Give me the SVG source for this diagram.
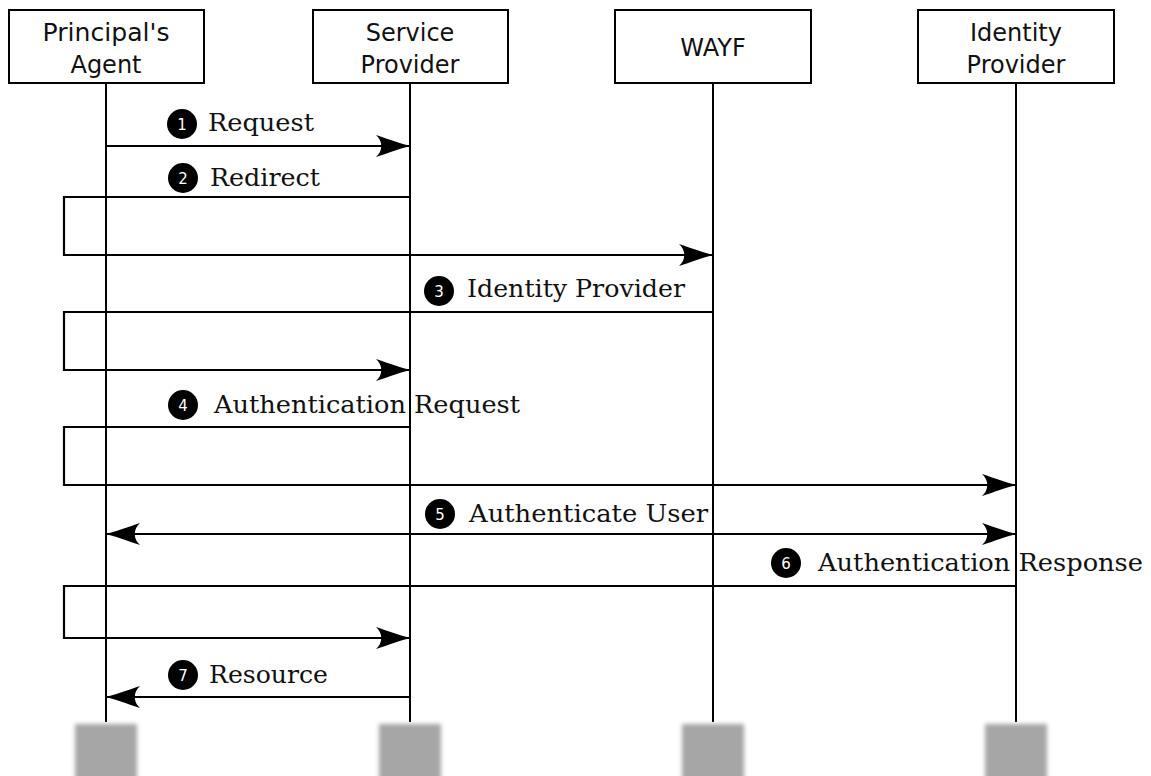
<svg xmlns="http://www.w3.org/2000/svg" width="1151" height="776" viewBox="0 0 1151 776">
<style>
.box{fill:#fff;stroke:#000;stroke-width:2}
.life{stroke:#000;stroke-width:2;fill:none}
.name{font-family:"DejaVu Sans",sans-serif;font-size:24px;fill:#111;text-anchor:middle}
.msg{fill:none;stroke:#000;stroke-width:2.2}
.lbl{font-family:"DejaVu Serif",serif;font-size:25px;fill:#111}
.num{font-family:"DejaVu Sans",sans-serif;font-size:15px;fill:#fff;text-anchor:middle}
.foot{fill:#a6a6a6;filter:url(#blur)}
</style>
<defs>
<marker id="arr" viewBox="-36 -12 38 24" markerWidth="38" markerHeight="24" refX="0" refY="0" markerUnits="userSpaceOnUse" orient="auto-start-reverse" overflow="visible">
<path d="M0,0 C-8,-2 -22,-7 -34,-11 C-27,-5 -27,5 -34,11 C-22,7 -8,2 0,0 Z" fill="#000"/>
</marker>
<filter id="blur" x="-20%" y="-20%" width="140%" height="140%"><feGaussianBlur stdDeviation="2"/></filter>
</defs>

<g id="lifelines">
<line class="life" x1="106" y1="83" x2="106" y2="722"/>
<line class="life" x1="410" y1="83" x2="410" y2="722"/>
<line class="life" x1="713" y1="83" x2="713" y2="722"/>
<line class="life" x1="1016" y1="83" x2="1016" y2="722"/>
</g>

<g id="node-agent">
<rect class="box" x="9" y="10" width="195" height="73"/>
<text class="name" x="106" y="41" textLength="127" lengthAdjust="spacingAndGlyphs">Principal's</text>
<text class="name" x="106" y="73">Agent</text>
<rect class="foot" x="75" y="724" width="62" height="60"/>
</g>
<g id="node-sp">
<rect class="box" x="313" y="10" width="195" height="73"/>
<text class="name" x="410" y="41">Service</text>
<text class="name" x="410" y="73">Provider</text>
<rect class="foot" x="379" y="724" width="62" height="60"/>
</g>
<g id="node-wayf">
<rect class="box" x="615" y="10" width="196" height="73"/>
<text class="name" x="713" y="56">WAYF</text>
<rect class="foot" x="682" y="724" width="62" height="60"/>
</g>
<g id="node-idp">
<rect class="box" x="918" y="10" width="196" height="73"/>
<text class="name" x="1016" y="41">Identity</text>
<text class="name" x="1016" y="73">Provider</text>
<rect class="foot" x="985" y="724" width="62" height="60"/>
</g>

<g id="connectors">
<path class="msg" d="M106,146 H410" marker-end="url(#arr)"/>
<path class="msg" d="M410,197 H64 V255 H713" marker-end="url(#arr)"/>
<path class="msg" d="M713,312 H64 V370 H410" marker-end="url(#arr)"/>
<path class="msg" d="M410,427 H64 V485 H1016" marker-end="url(#arr)"/>
<path class="msg" d="M106,534 H1016" marker-start="url(#arr)" marker-end="url(#arr)"/>
<path class="msg" d="M1016,586 H64 V638 H410" marker-end="url(#arr)"/>
<path class="msg" d="M410,697 H106" marker-end="url(#arr)"/>
</g>

<g id="labels">
<circle cx="182" cy="124" r="15"/><text class="num" x="182" y="129.5">1</text>
<text class="lbl" x="208" y="131" textLength="106" lengthAdjust="spacingAndGlyphs">Request</text>
<circle cx="183" cy="178" r="15"/><text class="num" x="183" y="183.5">2</text>
<text class="lbl" x="210" y="186" textLength="110" lengthAdjust="spacingAndGlyphs">Redirect</text>
<circle cx="439" cy="291" r="15"/><text class="num" x="439" y="296.5">3</text>
<text class="lbl" x="467" y="297" textLength="218" lengthAdjust="spacingAndGlyphs">Identity Provider</text>
<circle cx="183" cy="405" r="15"/><text class="num" x="183" y="410.5">4</text>
<text class="lbl" x="214" y="413" textLength="306" lengthAdjust="spacingAndGlyphs">Authentication Request</text>
<circle cx="440" cy="514" r="15"/><text class="num" x="440" y="519.5">5</text>
<text class="lbl" x="469" y="522" textLength="239" lengthAdjust="spacingAndGlyphs">Authenticate User</text>
<circle cx="786" cy="563" r="15"/><text class="num" x="786" y="568.5">6</text>
<text class="lbl" x="818" y="571" textLength="325" lengthAdjust="spacingAndGlyphs">Authentication Response</text>
<circle cx="183" cy="675" r="15"/><text class="num" x="183" y="680.5">7</text>
<text class="lbl" x="209" y="683" textLength="119" lengthAdjust="spacingAndGlyphs">Resource</text>
</g>
</svg>
